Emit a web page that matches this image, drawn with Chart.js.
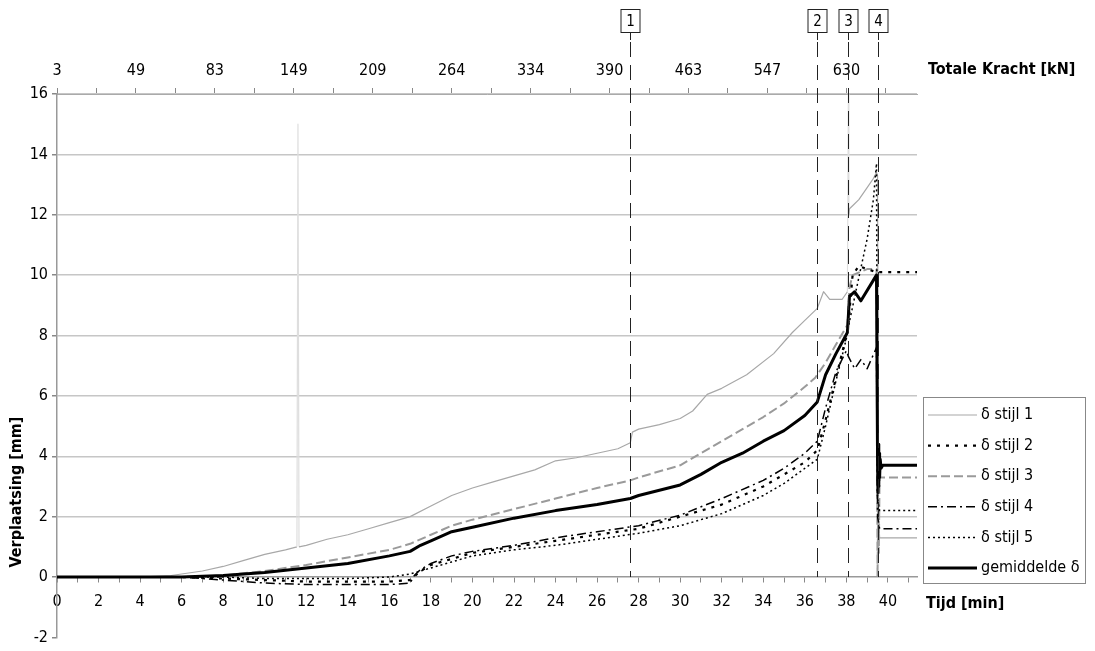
<!DOCTYPE html>
<html>
<head>
<meta charset="utf-8">
<script src="https://cdn.jsdelivr.net/npm/chart.js@4.4.1/dist/chart.umd.min.js"></script>
<style>
html,body{margin:0;padding:0;background:#fff;}
#wrap{width:1095px;height:651px;position:relative;}
</style>
</head>
<body>
<div id="wrap"><canvas id="c" width="1095" height="651"></canvas></div>
<script>
// ---- data (time in min, displacement in mm) ----
const timeStijl1 = [0,4,5.5,7,8,9,10,11,11.55,11.6,11.65,12,13,14,15,16,17,18,19,20,21,22,23,24,25,26,27,27.6,27.7,28,29,30,30.6,31.3,32,33.2,34.5,35.4,36,36.6,36.9,37.2,37.8,38.05,38.1,38.12,38.15,38.3,38.6,39.0,39.3,39.45,39.5,39.55,39.6,41.4];
const stijl1     = [0,0,0.05,0.2,0.35,0.55,0.75,0.9,1.0,15.0,1.0,1.05,1.25,1.4,1.6,1.8,2.0,2.35,2.7,2.95,3.15,3.35,3.55,3.85,3.95,4.1,4.25,4.45,4.8,4.9,5.05,5.25,5.5,6.05,6.25,6.7,7.4,8.1,8.5,8.9,9.45,9.2,9.2,9.45,16.3,12.0,12.2,12.3,12.5,12.9,13.2,13.4,13.3,2.0,1.3,1.3];

const timeStijl2 = [0,6,8,10,12,14,16,17,17.5,18,20,22,24,26,28,30,32,34,36,36.6,37,37.5,38,38.1,38.3,38.6,39,39.45,39.6,41.4];
const stijl2     = [0,0,-0.05,-0.1,-0.15,-0.15,-0.15,-0.1,0.2,0.4,0.8,1.0,1.2,1.4,1.6,2.0,2.4,3.0,3.8,4.2,5.2,6.6,8.0,8.4,10.0,10.3,10.2,10.1,10.1,10.1];

const timeStijl3 = [0,6,8,10,12,14,16,17,18,19,20,22,24,26,27.6,28,30,31,32,33,34,35,36,36.5,37,37.5,38.05,38.15,38.3,39.0,39.45,39.5,39.53,39.56,39.6,41.4];
const stijl3     = [0,0,0.05,0.2,0.4,0.65,0.9,1.1,1.4,1.7,1.9,2.25,2.6,2.95,3.2,3.3,3.7,4.1,4.5,4.9,5.3,5.75,6.3,6.6,7.1,7.7,8.35,9.6,10.0,10.2,10.2,0.0,2.5,0.8,3.3,3.3];

const timeStijl4 = [0,6,8,10,12,14,16,17,17.2,17.5,18,19,20,22,24,26,28,30,32,34,35,36,36.6,37,37.5,38,38.1,38.4,38.7,39.0,39.45,39.5,39.6,41.4];
const stijl4     = [0,0,-0.1,-0.2,-0.25,-0.25,-0.25,-0.2,0.05,0.25,0.45,0.7,0.85,1.05,1.3,1.5,1.7,2.05,2.6,3.2,3.6,4.1,4.5,5.6,6.8,7.5,7.3,6.9,7.2,6.9,7.6,2.0,1.6,1.6];

const timeStijl5 = [0,6,8,10,12,14,16,17,18,19,20,22,24,26,28,30,32,34,35,36,36.6,37,37.5,38,38.1,38.5,39,39.3,39.45,39.5,39.6,41.4];
const stijl5     = [0,0,0,-0.05,-0.05,-0.05,0,0.1,0.3,0.5,0.7,0.9,1.05,1.25,1.45,1.7,2.1,2.7,3.1,3.6,3.9,5.0,6.5,7.9,8.3,9.6,11.2,12.5,13.7,2.6,2.2,2.2];

const timeGem = [0,6,8,10,12,14,16,17,17.5,18,19,20,22,24,26,27.6,28,30,31,32,33,34,35,36,36.6,37.0,37.5,38.05,38.15,38.4,38.7,39.45,39.5,39.52,39.54,39.56,39.58,39.6,39.63,39.67,39.75,41.4];
const gemiddelde = [0,0,0.05,0.15,0.3,0.45,0.7,0.85,1.05,1.2,1.5,1.65,1.95,2.2,2.4,2.6,2.7,3.05,3.4,3.8,4.1,4.5,4.85,5.35,5.8,6.7,7.4,8.1,9.3,9.45,9.15,10.0,4.0,2.8,4.4,3.0,4.1,3.3,3.9,3.6,3.7,3.7];

const seriesNames = ['δ stijl 1','δ stijl 2','δ stijl 3','δ stijl 4','δ stijl 5','gemiddelde δ'];

// faint measurement glitches (times where a spike appears only faintly)
const faintSpikeTimes = [11.6, 38.1];

// top axis: total force labels and the times where they sit
const kNLabels = ['3','49','83','149','209','264','334','390','463','547','630'];
const kNTimes  = [0,3.8,7.6,11.4,15.2,19.0,22.8,26.6,30.4,34.2,38.0];

// event markers
const eventTimes  = [27.6,36.6,38.1,39.5];
const eventLabels = ['1','2','3','4'];

const xMin = 0, xMax = 41.4, yMin = -2, yMax = 16;

function pts(t, v){ return t.map((x,i)=>({x:x, y:v[i]})); }

const FONT = '"DejaVu Sans Condensed","DejaVu Sans",sans-serif';

const datasets = [
  {label:seriesNames[5], data:pts(timeGem,gemiddelde), borderColor:'#000', borderWidth:3, borderDash:[], order:0},
  {label:seriesNames[0], data:pts(timeStijl1,stijl1), borderColor:'#a8a8a8', borderWidth:1.2, borderDash:[], order:5,
    segment:{borderColor:(c)=> (faintSpikeTimes.includes(c.p0.parsed.x) || faintSpikeTimes.includes(c.p1.parsed.x)) ? '#dedede' : undefined}},
  {label:seriesNames[1], data:pts(timeStijl2,stijl2), borderColor:'#000', borderWidth:2.2, borderDash:[3,6], order:2},
  {label:seriesNames[2], data:pts(timeStijl3,stijl3), borderColor:'#9a9a9a', borderWidth:2, borderDash:[9,4], order:4},
  {label:seriesNames[3], data:pts(timeStijl4,stijl4), borderColor:'#000', borderWidth:1.5, borderDash:[9,4,2,4], order:1},
  {label:seriesNames[4], data:pts(timeStijl5,stijl5), borderColor:'#000', borderWidth:1.5, borderDash:[2,3], order:3}
];
datasets.forEach(d=>{ d.pointRadius=0; d.tension=0; d.fill=false; d.borderJoinStyle='round'; });

const overlay = {
  id:'overlay',
  afterDatasetsDraw(chart){
    const ctx = chart.ctx, xs = chart.scales.x, ys = chart.scales.y;
    const y0 = ys.getPixelForValue(0);
    ctx.save();
    eventTimes.forEach((t,i)=>{
      const px = Math.round(xs.getPixelForValue(t))+0.5;
      ctx.strokeStyle='#222'; ctx.lineWidth=1;
      ctx.setLineDash([15,8]);
      ctx.beginPath(); ctx.moveTo(px,42); ctx.lineTo(px,y0); ctx.stroke();
      ctx.setLineDash([]);
      ctx.beginPath(); ctx.moveTo(px,33); ctx.lineTo(px,40); ctx.stroke();
      ctx.strokeRect(px-9.5,9.5,19,23);
      ctx.fillStyle='#000'; ctx.font='15px '+FONT; ctx.textAlign='center'; ctx.textBaseline='middle';
      ctx.fillText(eventLabels[i], px, 22);
    });
    ctx.restore();
  },
  afterDraw(chart){
    const ctx = chart.ctx;
    ctx.save();
    ctx.fillStyle='#000';
    ctx.font='bold 16px '+FONT;
    ctx.textBaseline='middle'; ctx.textAlign='left';
    ctx.fillText('Totale Kracht [kN]', 928, 70);
    ctx.fillText('Tijd [min]', 926, 604);
    ctx.save();
    ctx.translate(17, 492); ctx.rotate(-Math.PI/2); ctx.textAlign='center';
    ctx.fillText('Verplaatsing [mm]', 0, 0);
    ctx.restore();
    // legend
    const lx=923.5, ly=397.5, lw=162, lh=186;
    ctx.strokeStyle='#888'; ctx.lineWidth=1; ctx.setLineDash([]);
    ctx.strokeRect(lx,ly,lw,lh);
    const order=[1,2,3,4,5,0];
    ctx.font='16px '+FONT; ctx.textBaseline='middle'; ctx.textAlign='left';
    order.forEach((di,k)=>{
      const ds = chart.data.datasets[di];
      const yy = 415 + k*30.6;
      ctx.save();
      ctx.strokeStyle=ds.borderColor; ctx.lineWidth=ds.borderWidth; ctx.setLineDash(ds.borderDash||[]);
      ctx.beginPath(); ctx.moveTo(928,yy); ctx.lineTo(977,yy); ctx.stroke();
      ctx.restore();
      ctx.fillStyle='#000';
      ctx.fillText(ds.label, 981, yy);
    });
    ctx.restore();
  }
};

new Chart(document.getElementById('c'), {
  type:'line',
  data:{datasets:datasets},
  options:{
    responsive:false, animation:false, devicePixelRatio:1,
    layout:{padding:{left:0,right:178,top:0,bottom:7}},
    plugins:{legend:{display:false}, tooltip:{enabled:false}},
    scales:{
      x:{
        type:'linear', position:{y:0}, min:xMin, max:xMax,
        afterBuildTicks(s){ const t=[]; for(let v=0; v<=41; v++) t.push({value:v}); s.ticks=t; },
        afterFit(s){ s.height=0; },
        ticks:{autoSkip:false, maxRotation:0, padding:10, color:'#000', font:{family:FONT,size:16},
          callback:(v)=> (v%2===0 ? String(v) : '')},
        grid:{drawOnChartArea:false, drawTicks:true, tickLength:5, color:'#888', tickColor:'#888'},
        border:{display:true, color:'#999', width:1.5}
      },
      xTop:{
        type:'linear', position:'top', min:xMin, max:xMax,
        afterBuildTicks(s){
          const t=[];
          kNTimes.forEach((v,i)=>{ t.push({value:v}); const nxt = i<kNTimes.length-1 ? kNTimes[i+1] : v+(v-kNTimes[i-1]); t.push({value:(v+nxt)/2}); });
          s.ticks=t.filter(o=>o.value<=xMax);
        },
        afterFit(s){ s.height=94; },
        ticks:{autoSkip:false, maxRotation:0, padding:8, color:'#000', font:{family:FONT,size:16},
          callback:(v)=>{ const i=kNTimes.indexOf(v); return i>=0 ? kNLabels[i] : ''; }},
        grid:{drawOnChartArea:false, drawTicks:true, tickLength:6, color:'#888', tickColor:'#888'},
        border:{display:true, color:'#aaa', width:1}
      },
      y:{
        type:'linear', position:'left', min:yMin, max:yMax,
        afterBuildTicks(s){ const t=[]; for(let v=yMin; v<=yMax; v+=2) t.push({value:v}); s.ticks=t; },
        afterFit(s){ s.width=57; },
        ticks:{padding:4, color:'#000', font:{family:FONT,size:16}},
        grid:{drawTicks:true, tickLength:5, lineWidth:1.5,
          color:(c)=> (c.tick && c.tick.value>0 ? '#c6c6c6' : 'rgba(0,0,0,0)'), tickColor:'#888'},
        border:{display:true, color:'#999', width:1.5}
      }
    }
  },
  plugins:[overlay]
});
</script>
</body>
</html>
